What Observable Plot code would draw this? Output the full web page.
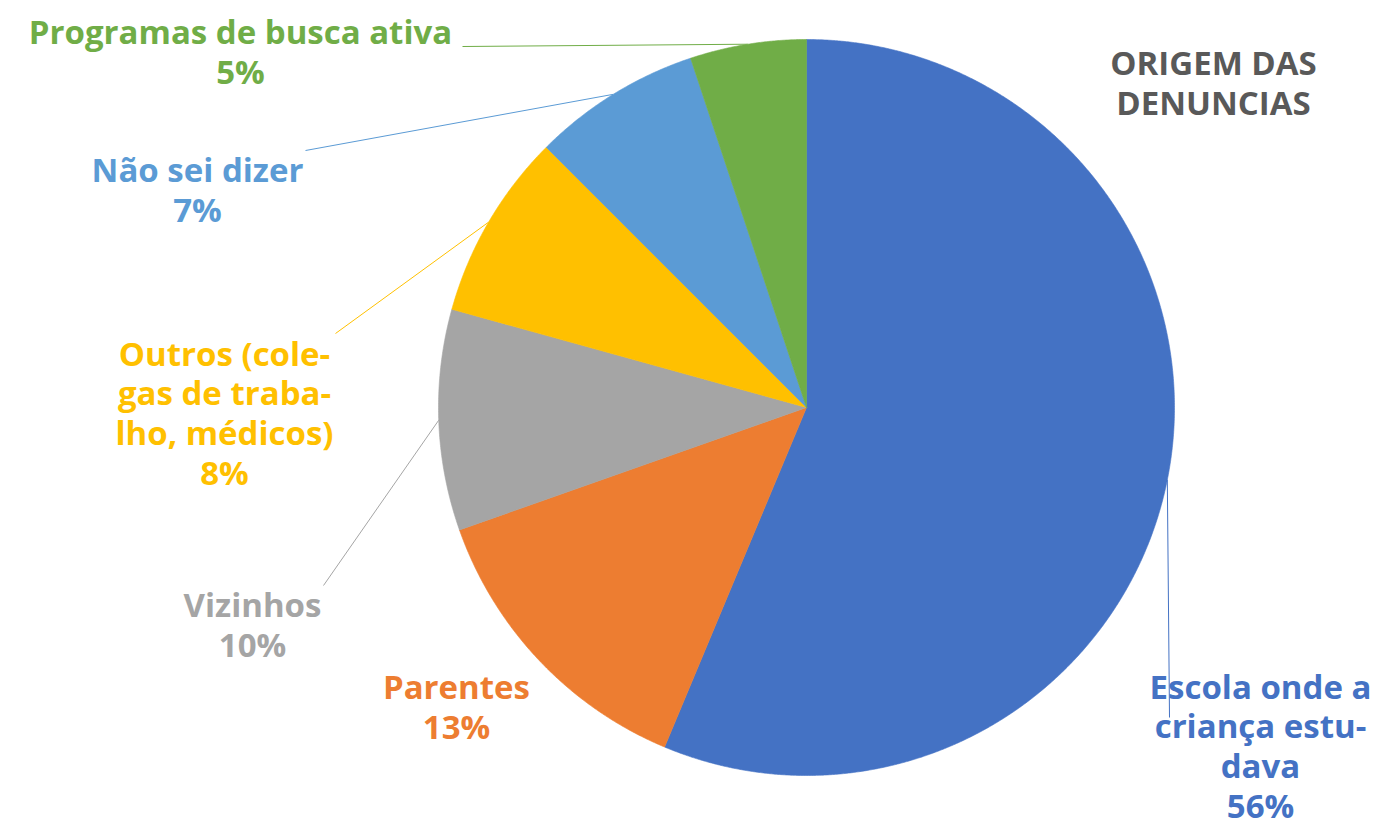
<!DOCTYPE html>
<html>
<head>
<meta charset="utf-8">
<script src="https://cdn.jsdelivr.net/npm/d3@7"></script>
<script src="https://cdn.jsdelivr.net/npm/@observablehq/plot@0.6"></script>
<style>
  html, body { margin: 0; padding: 0; background: #fff; }
  #chart { width: 1380px; height: 826px; }
</style>
</head>
<body>
<div id="chart"></div>
<script>
// ---- data ----
const categories = ["Escola onde a criança estudava", "Parentes", "Vizinhos", "Outros (colegas de trabalho, médicos)", "Não sei dizer", "Programas de busca ativa"];
const values = [56.3, 13.3, 9.7, 8.2, 7.4, 5.1];
const pctLabels = ["56%", "13%", "10%", "8%", "7%", "5%"];
const labelText = ["Escola onde a\ncriança estu-\ndava", "Parentes", "Vizinhos", "Outros (cole-\ngas de traba-\nlho, médicos)", "Não sei dizer", "Programas de busca ativa"];
const colors = ["#4472C4", "#ED7D31", "#A5A5A5", "#FFC000", "#5B9BD5", "#70AD47"];
const titleText = "ORIGEM DAS\nDENUNCIAS";

// ---- layout (pixels) ----
const W = 1380, H = 826;
const cx = 806, cy = 407, R = 368;
const labelPos = [
  {x: 1260, y: 745, leader: [1169, 717]},
  {x: 456, y: 706, leader: null},
  {x: 252, y: 624, leader: [323, 585]},
  {x: 224, y: 412, leader: [335, 333]},
  {x: 197, y: 189, leader: [305, 150]},
  {x: 240, y: 51, leader: [462, 46]}
];

const total = d3.sum(values);
const slices = [];
let acc = 0;
values.forEach((v, i) => {
  const a0 = acc / total * 2 * Math.PI;
  acc += v;
  const a1 = acc / total * 2 * Math.PI;
  slices.push({cat: categories[i], a0, a1, mid: (a0 + a1) / 2, i});
});

const pt = (a, r) => [cx + r * Math.sin(a), cy - r * Math.cos(a)];

const wedgePts = [];
for (const s of slices) {
  wedgePts.push({cat: s.cat, x: cx, y: cy});
  const n = Math.max(2, Math.ceil((s.a1 - s.a0) / (Math.PI / 720)));
  for (let k = 0; k <= n; k++) {
    const a = s.a0 + (s.a1 - s.a0) * k / n;
    const [x, y] = pt(a, R);
    wedgePts.push({cat: s.cat, x, y});
  }
  wedgePts.push({cat: s.cat, x: cx, y: cy});
}

const leaders = slices.filter(s => labelPos[s.i].leader).map(s => {
  const [x2, y2] = pt(s.mid, R);
  return {cat: s.cat, x1: labelPos[s.i].leader[0], y1: labelPos[s.i].leader[1], x2, y2};
});

const labels = slices.map(s => ({
  cat: s.cat,
  text: labelText[s.i] + "\n" + pctLabels[s.i],
  x: labelPos[s.i].x,
  y: labelPos[s.i].y
}));

const font = "'Open Sans', Lato, sans-serif";

const chart = Plot.plot({
  width: W,
  height: H,
  margin: 0,
  x: {domain: [0, W], range: [0, W], axis: null},
  y: {domain: [0, H], range: [0, H], axis: null},
  color: {domain: categories, range: colors},
  style: {background: "#fff", fontFamily: font},
  marks: [
    Plot.line(wedgePts, {x: "x", y: "y", z: "cat", fill: "cat", stroke: "cat", strokeWidth: 0.6, curve: "linear-closed"}),
    Plot.link(leaders, {x1: "x1", y1: "y1", x2: "x2", y2: "y2", stroke: "cat", strokeWidth: 1}),
    Plot.text(labels, {x: "x", y: "y", text: "text", fill: "cat", fontSize: 33, fontWeight: "bold", lineHeight: 1.2, textAnchor: "middle", lineAnchor: "middle", fontFamily: font}),
    Plot.text([titleText], {x: () => 1213, y: () => 82, text: d => d, fill: "#595959", fontSize: 33, fontWeight: "bold", lineHeight: 1.2, textAnchor: "middle", lineAnchor: "middle", fontFamily: font})
  ]
});

document.getElementById("chart").appendChild(chart);
</script>
</body>
</html>
